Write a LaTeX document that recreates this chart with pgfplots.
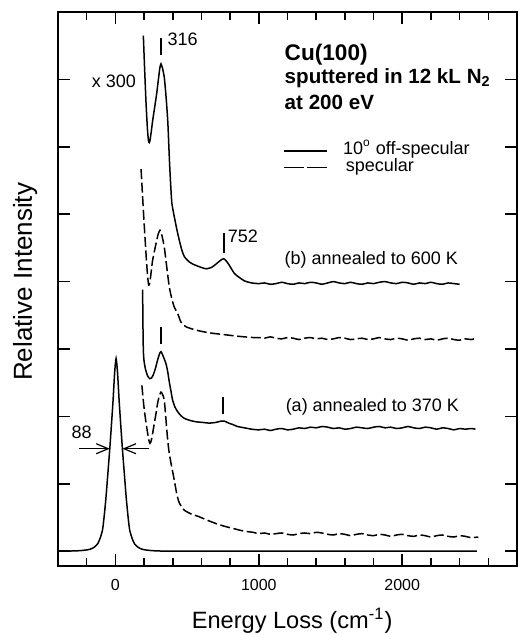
\documentclass[border=0pt]{standalone}
\usepackage{fontspec}
\setmainfont{Liberation Sans}
\usepackage{pgfplots}
\pgfplotsset{compat=1.18}
\usetikzlibrary{arrows.meta}

\begin{document}
\begin{tikzpicture}
\begin{axis}[
  at={(0,0)}, anchor=south west,
  width=229.5pt, height=277pt, scale only axis,
  xmin=-400, xmax=2800, ymin=-0.22, ymax=8,
  xtick={0,1000,2000},
  minor xtick={-200,200,400,600,800,1200,1400,1600,1800,2200,2400,2600},
  ytick={0,1,...,7},
  yticklabels={},
  major tick length=6pt, minor tick length=4pt,
  every tick/.style={line width=0.8pt, black},
  axis line style={line width=1.3pt},
  /pgf/number format/assume math mode=true,
  /pgf/number format/1000 sep={},
  xticklabel style={font=\fontsize{8}{9}\selectfont, yshift=-3pt},
  xlabel={Energy Loss (cm\textsuperscript{-1})},
  xlabel style={font=\fontsize{11.8}{13}\selectfont, inner sep=0pt, at={(axis description cs:0.51,-0.1125)}, anchor=base},
  ylabel={Relative Intensity},
  ylabel style={font=\fontsize{13}{15}\selectfont, inner sep=0pt, at={(axis description cs:-0.057,0.513)}, anchor=base},
  every axis plot/.append style={line width=0.75pt, black},
]
% elastic peak
\addplot[smooth, tension=0.4] coordinates {
(-400,0) (-295,0.003) (-245,0.008) (-195,0.02) (-175,0.03) (-150,0.055) (-123,0.11)
(-105,0.2) (-90,0.31) (-80,0.48) (-67,0.76) (-55,1.08) (-39,1.52) (-25,1.95) (-16,2.24)
(-5,2.65) (5,2.86) (15,2.65) (26,2.24) (35,1.95) (49,1.52) (65,1.08) (77,0.76) (90,0.48)
(100,0.31) (115,0.2) (133,0.11) (160,0.055) (185,0.03) (205,0.02) (255,0.008) (305,0.003)
(400,0) (1000,0) (2520,0)
};
% (a) specular
\addplot[smooth, tension=0.4, dash pattern=on 5pt off 1.8pt] coordinates {
(185,2.46) (193,2.27) (202,2.09) (214,1.9) (225,1.75) (233,1.65) (241,1.60) (250,1.64)
(260,1.75) (271,1.89) (283,2.04) (294,2.19) (306,2.30) (318,2.36) (330,2.32) (341,2.24)
(349,2.05) (357,1.84) (366,1.62) (376,1.45) (390,1.28) (411,1.05) (427,0.86) (445,0.72)
(480,0.61) (530,0.55) (585,0.51) (640,0.46) (701,0.41) (760,0.37) (816,0.34) (870,0.31)
(920,0.29) (960,0.28) (1000,0.26) (1040,0.27) (1080,0.25) (1120,0.26) (1160,0.27) (1200,0.25)
(1240,0.24) (1280,0.26) (1320,0.27) (1360,0.26) (1400,0.28) (1440,0.27) (1480,0.25) (1520,0.24)
(1560,0.26) (1600,0.25) (1640,0.23) (1680,0.25) (1720,0.26) (1760,0.24) (1800,0.23) (1840,0.25)
(1880,0.24) (1920,0.22) (1960,0.24) (2000,0.25) (2040,0.23) (2080,0.22) (2120,0.24) (2160,0.23)
(2200,0.21) (2240,0.23) (2280,0.24) (2320,0.22) (2360,0.21) (2400,0.23) (2440,0.22) (2480,0.20)
(2530,0.21)
};
% (a) 10 deg off-specular
\addplot[smooth, tension=0.4] coordinates {
(190,3.88) (192,3.4) (195,2.98) (200,2.82) (210,2.7) (225,2.6) (240,2.56) (252,2.57)
(265,2.62) (279,2.71) (295,2.84) (308,2.93) (318,2.96) (330,2.91) (353,2.78) (365,2.66)
(376,2.51) (388,2.37) (399,2.24) (415,2.14) (434,2.07) (457,2.01) (481,1.97) (520,1.94)
(562,1.92) (610,1.91) (654,1.90) (700,1.91) (736,1.93) (760,1.93) (790,1.90) (818,1.88)
(851,1.85) (900,1.83) (950,1.81) (1000,1.80) (1040,1.81) (1080,1.79) (1120,1.81) (1160,1.82)
(1200,1.80) (1240,1.81) (1280,1.83) (1320,1.82) (1360,1.84) (1400,1.83) (1440,1.85) (1480,1.84)
(1520,1.82) (1560,1.83) (1600,1.81) (1640,1.82) (1680,1.84) (1720,1.83) (1760,1.82) (1800,1.84)
(1840,1.85) (1880,1.83) (1920,1.84) (1960,1.82) (2000,1.83) (2040,1.85) (2080,1.83) (2120,1.82)
(2160,1.84) (2200,1.83) (2240,1.81) (2280,1.83) (2320,1.82) (2360,1.80) (2400,1.82) (2440,1.81)
(2480,1.82) (2510,1.81)
};
% (b) specular
\addplot[smooth, tension=0.4, dash pattern=on 5pt off 1.8pt] coordinates {
(179,5.67) (190,5.25) (202,4.81) (214,4.4) (224,4.1) (232,3.95) (240,3.98) (250,4.15)
(260,4.32) (283,4.56) (298,4.70) (311,4.76) (325,4.68) (341,4.51) (358,4.22) (376,3.92)
(393,3.75) (411,3.62) (434,3.53) (457,3.40) (492,3.33) (562,3.28) (654,3.24) (770,3.21)
(850,3.19) (900,3.18) (960,3.17) (1000,3.17) (1040,3.16) (1080,3.18) (1120,3.16) (1160,3.15)
(1200,3.17) (1240,3.16) (1280,3.14) (1320,3.16) (1360,3.17) (1400,3.15) (1440,3.16) (1480,3.14)
(1520,3.15) (1560,3.17) (1600,3.16) (1640,3.14) (1680,3.15) (1720,3.16) (1760,3.14) (1800,3.15)
(1840,3.17) (1880,3.15) (1920,3.14) (1960,3.16) (2000,3.15) (2040,3.13) (2080,3.15) (2120,3.16)
(2160,3.14) (2200,3.15) (2240,3.13) (2280,3.15) (2320,3.16) (2360,3.14) (2400,3.13) (2440,3.15)
(2480,3.14) (2500,3.15)
};
% (b) 10 deg off-specular
\addplot[smooth, tension=0.4] coordinates {
(195,7.65) (204,7.15) (214,6.64) (224,6.25) (232,6.07) (240,6.08) (250,6.22) (260,6.39)
(275,6.6) (288,6.79) (300,7.0) (310,7.17) (318,7.23) (328,7.17) (341,7.03) (353,6.75)
(365,6.39) (372,6.05) (378,5.75) (386,5.42) (394,5.16) (411,4.96) (428,4.78) (446,4.61)
(463,4.47) (481,4.37) (516,4.29) (550,4.25) (586,4.22) (632,4.19) (670,4.21) (702,4.26)
(730,4.31) (755,4.34) (775,4.30) (795,4.24) (830,4.12) (865,4.06) (900,4.01) (950,3.98)
(1000,3.97) (1040,3.98) (1080,3.96) (1120,3.97) (1160,3.99) (1200,3.97) (1240,3.96) (1280,3.98)
(1320,3.97) (1360,3.99) (1400,3.98) (1440,3.96) (1480,3.98) (1520,4.00) (1560,3.98) (1600,3.97)
(1640,3.99) (1680,3.97) (1720,3.96) (1760,3.98) (1800,3.97) (1840,3.99) (1880,4.00) (1920,3.98)
(1960,3.97) (2000,3.99) (2040,3.98) (2080,3.96) (2120,3.98) (2160,3.97) (2200,3.99) (2240,3.97)
(2280,3.96) (2320,3.98) (2360,3.97) (2400,3.96)
};
% annotations
\node[anchor=base west, font=\bfseries\fontsize{11.3}{12}\selectfont, inner sep=0pt] at (axis cs:1178,7.28) {Cu(100)};
\node[anchor=base west, font=\bfseries\fontsize{10.3}{12}\selectfont, inner sep=0pt] at (axis cs:1178,6.94) {sputtered in 12 kL N\textsubscript{2}};
\node[anchor=base west, font=\bfseries\fontsize{10.3}{12}\selectfont, inner sep=0pt] at (axis cs:1178,6.56) {at 200 eV};
\draw[line width=0.75pt] (axis cs:1178,5.94) -- (axis cs:1478,5.94);
\node[anchor=base west, font=\fontsize{9}{10}\selectfont, inner sep=0pt] at (axis cs:1585,5.89) {10\textsuperscript{o} off-specular};
\draw[line width=0.75pt, dash pattern=on 10pt off 1.5pt] (axis cs:1178,5.69) -- (axis cs:1478,5.69);
\node[anchor=base west, font=\fontsize{9}{10}\selectfont, inner sep=0pt] at (axis cs:1604,5.63) {specular};
\node[anchor=base west, font=\fontsize{9}{10}\selectfont, inner sep=0pt] at (axis cs:1178,4.26) {(b) annealed to 600 K};
\node[anchor=base west, font=\fontsize{9}{10}\selectfont, inner sep=0pt] at (axis cs:1185,2.07) {(a) annealed to 370 K};
\node[anchor=base east, font=\fontsize{9}{10}\selectfont, inner sep=0pt] at (axis cs:146,6.88) {x 300};
\node[anchor=base west, font=\fontsize{9}{10}\selectfont, inner sep=0pt] at (axis cs:362,7.50) {316};
\node[anchor=base west, font=\fontsize{9}{10}\selectfont, inner sep=0pt] at (axis cs:781,4.58) {752};
\node[anchor=base west, font=\fontsize{9}{10}\selectfont, inner sep=0pt] at (axis cs:-307,1.67) {88};
\draw[line width=1.1pt] (axis cs:320,7.36) -- (axis cs:320,7.61);
\draw[line width=1.1pt] (axis cs:760,4.43) -- (axis cs:760,4.72);
\draw[line width=1.1pt] (axis cs:318,3.08) -- (axis cs:318,3.33);
\draw[line width=1.1pt] (axis cs:753,2.04) -- (axis cs:753,2.29);
\draw[line width=0.6pt, -{Straight Barb[length=6pt, width=5pt]}] (axis cs:-251,1.52) -- (axis cs:-39,1.52);
\draw[line width=0.6pt, -{Straight Barb[length=6pt, width=5pt]}] (axis cs:237,1.52) -- (axis cs:49,1.52);
\end{axis}
\pgfresetboundingbox
\useasboundingbox (-29pt,-34.5pt) rectangle (230.5pt,283pt);
\end{tikzpicture}
\end{document}
